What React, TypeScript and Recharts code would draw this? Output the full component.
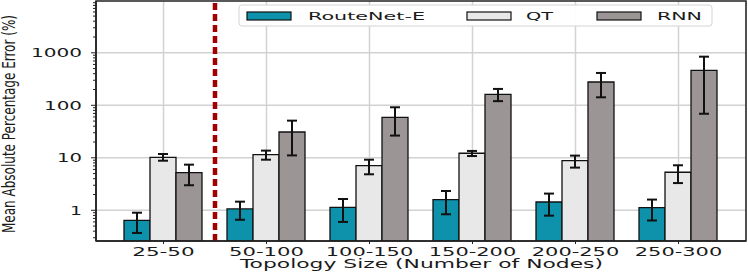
import React from 'react';
import {
  BarChart, Bar, XAxis, YAxis, CartesianGrid, ErrorBar, ReferenceLine, Customized, usePlotArea,
} from 'recharts';

const categories = ['25-50', '50-100', '100-150', '150-200', '200-250', '250-300'];

const routenet = [0.64, 1.06, 1.14, 1.6, 1.44, 1.12];
const routenetLow = [0.37, 0.66, 0.6, 0.84, 0.79, 0.64];
const routenetHigh = [0.9, 1.46, 1.64, 2.33, 2.08, 1.6];

const qt = [10.2, 11.5, 7.1, 12.2, 8.8, 5.3];
const qtLow = [8.8, 9.2, 4.85, 10.8, 6.5, 3.3];
const qtHigh = [11.8, 13.7, 9.2, 13.5, 11, 7.2];

const rnn = [5.2, 31, 59, 162, 278, 464];
const rnnLow = [3.0, 11.1, 26.5, 120, 142, 69];
const rnnHigh = [7.4, 51, 91.6, 205, 413, 844];

const seriesNames = ['RouteNet-E', 'QT', 'RNN'];
const seriesColors = ['#0e92ac', '#e8e8e8', '#9b9595'];

const majorTicks = [1, 10, 100, 1000];
const minorTicks = [
  0.3, 0.4, 0.5, 0.6, 0.7, 0.8, 0.9,
  2, 3, 4, 5, 6, 7, 8, 9,
  20, 30, 40, 50, 60, 70, 80, 90,
  200, 300, 400, 500, 600, 700, 800, 900,
  2000, 3000, 4000, 5000, 6000, 7000, 8000, 9000,
];
const yTicks = [...majorTicks, ...minorTicks].sort((a, b) => a - b);

const data = categories.map((c, i) => ({
  name: c,
  routenet: routenet[i],
  routenetErr: [routenet[i] - routenetLow[i], routenetHigh[i] - routenet[i]],
  qt: qt[i],
  qtErr: [qt[i] - qtLow[i], qtHigh[i] - qt[i]],
  rnn: rnn[i],
  rnnErr: [rnn[i] - rnnLow[i], rnnHigh[i] - rnn[i]],
}));

const FONT = '"DejaVu Sans", sans-serif';
const TEXT = '#1a1a1a';

const YTick = (props: any) => {
  const { x, y, payload } = props;
  const v = payload.value;
  const major = majorTicks.includes(v);
  const label = String(v);
  return (
    <g>
      <line x1={x - (major ? 5 : 3)} x2={x} y1={y} y2={y} stroke="#222" strokeWidth={1} />
      {major && (
        <text
          x={x - 14}
          y={y + 4.3}
          textAnchor="end"
          fontFamily={FONT}
          fontSize={12}
          fill={TEXT}
          textLength={label.length * 13 - 1}
          lengthAdjust="spacingAndGlyphs"
        >
          {label}
        </text>
      )}
    </g>
  );
};

const XTick = (props: any) => {
  const { x, y, payload } = props;
  const label = String(payload.value);
  return (
    <text
      x={x}
      y={y + 11.5}
      textAnchor="middle"
      fontFamily={FONT}
      fontSize={11.5}
      fill={TEXT}
      textLength={label.length * 12.5}
      lengthAdjust="spacingAndGlyphs"
    >
      {label}
    </text>
  );
};

const Decorations = () => {
  const area = usePlotArea();
  if (!area) return null;
  const { x, y, width, height } = area;
  const swatchX = [247, 467, 597];
  const textX = [308, 526, 657];
  const textW = [117, 27, 45];
  return (
    <g>
      <rect x={x} y={y} width={width} height={height} fill="none" stroke="#222" strokeWidth={1.5} />
      <rect x={239} y={5} width={473} height={21} rx={3} fill="#ffffff" fillOpacity={0.92} stroke="#d4d4d4" strokeWidth={1} />
      {seriesNames.map((n, i) => (
        <g key={n}>
          <rect x={swatchX[i]} y={12} width={44} height={8} fill={seriesColors[i]} stroke="#111" strokeWidth={1.2} />
          <text
            x={textX[i]}
            y={20}
            fontFamily={FONT}
            fontSize={11}
            fill={TEXT}
            textLength={textW[i]}
            lengthAdjust="spacingAndGlyphs"
          >
            {n}
          </text>
        </g>
      ))}
      <text
        x={421.5}
        y={268}
        textAnchor="middle"
        fontFamily={FONT}
        fontSize={11.5}
        fill={TEXT}
        textLength={363}
        lengthAdjust="spacingAndGlyphs"
      >
        Topology Size (Number of Nodes)
      </text>
      <text
        x={14.5}
        y={124}
        textAnchor="middle"
        transform="rotate(-90, 14.5, 124)"
        fontFamily={FONT}
        fontSize={17}
        fill={TEXT}
        textLength={218}
        lengthAdjust="spacingAndGlyphs"
      >
        Mean Absolute Percentage Error (%)
      </text>
    </g>
  );
};

export default function App() {
  return (
    <div style={{ position: 'absolute', left: 0, top: 0, width: 748, height: 273, background: '#fff' }}>
      <BarChart
        width={748}
        height={273}
        data={data}
        margin={{ top: 1, right: 2, bottom: 2, left: 0 }}
        barCategoryGap={12}
        barGap={0}
      >
        <CartesianGrid
          stroke="#d2d2d2"
          strokeWidth={1.5}
          horizontalValues={majorTicks}
        />
        <XAxis
          dataKey="name"
          height={30}
          padding={{ left: 16, right: 16 }}
          tick={<XTick />}
          tickSize={3}
          tickMargin={0}
          tickLine={{ stroke: '#222' }}
          axisLine={{ stroke: '#222', strokeWidth: 1.5 }}
          interval={0}
        />
        <YAxis
          scale="log"
          type="number"
          domain={[0.26, 9700]}
          allowDataOverflow
          ticks={yTicks}
          interval={0}
          width={96}
          tick={<YTick />}
          tickLine={false}
          tickSize={0}
          tickMargin={0}
          axisLine={{ stroke: '#222', strokeWidth: 1.5 }}
        />
        <Bar dataKey="routenet" fill={seriesColors[0]} stroke="#111" strokeWidth={1.3} isAnimationActive={false}>
          <ErrorBar dataKey="routenetErr" width={5} stroke="#111" strokeWidth={2} direction="y" />
        </Bar>
        <Bar dataKey="qt" fill={seriesColors[1]} stroke="#111" strokeWidth={1.3} isAnimationActive={false}>
          <ErrorBar dataKey="qtErr" width={5} stroke="#111" strokeWidth={2} direction="y" />
        </Bar>
        <Bar dataKey="rnn" fill={seriesColors[2]} stroke="#111" strokeWidth={1.3} isAnimationActive={false}>
          <ErrorBar dataKey="rnnErr" width={5} stroke="#111" strokeWidth={2} direction="y" />
        </Bar>
        <ReferenceLine x="25-50" position="end" stroke="#a00000" strokeWidth={4.5} strokeDasharray="7 4" />
        <Customized component={Decorations} />
      </BarChart>
    </div>
  );
}
